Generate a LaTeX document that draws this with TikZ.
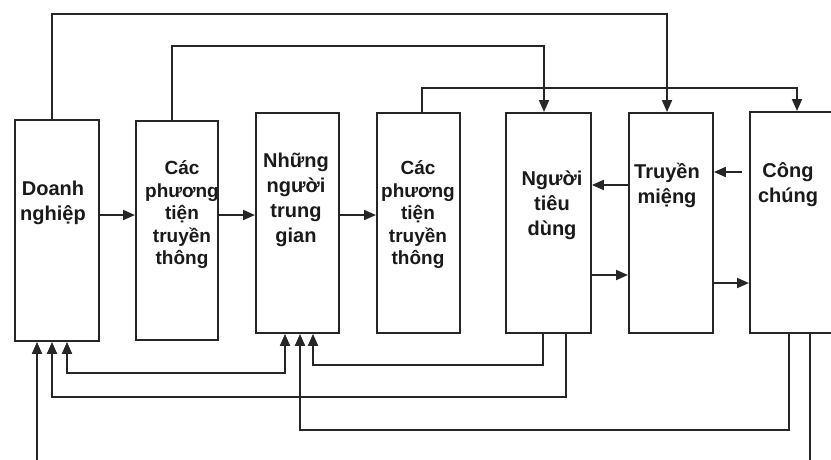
\documentclass[tikz,border=0pt]{standalone}
\usepackage{fontspec}
\setmainfont{Liberation Sans}
\usetikzlibrary{arrows.meta,calc}
\definecolor{lc}{HTML}{262626}
\definecolor{tc}{HTML}{1A1A1A}
\begin{document}
\begin{tikzpicture}[x=1pt,y=-1pt,
 box/.style={draw=lc, line width=1.9pt, inner sep=0pt, anchor=north west, minimum height=220pt},
 lbl/.style={align=center, font=\fontsize{20}{25}\selectfont\bfseries, text=tc, inner sep=0pt},
 lbls/.style={lbl, font=\fontsize{19}{22.5}\selectfont\bfseries},
 conn/.style={draw=lc, line width=1.9pt, -{Triangle[length=12pt,width=10pt]}},
 conn2/.style={draw=lc, line width=1.9pt, {Triangle[length=12pt,width=10pt]}-{Triangle[length=12pt,width=10pt]}},
]
\clip (0,0) rectangle (831,459);
\fill[white] (0,0) rectangle (831,459);

% boxes
\node[box, minimum width=84pt, minimum height=221pt] (dn) at (14,119) {};
\node[box, minimum width=82pt, minimum height=219pt] (cpt1) at (135,120) {};
\node[box, minimum width=83pt] (nntg) at (255,112) {};
\node[box, minimum width=83pt] (cpt2) at (376,112) {};
\node[box, minimum width=85pt] (ntd) at (505,112) {};
\node[box, minimum width=84pt] (tm) at (628,112) {};
\node[box, minimum width=84pt, minimum height=221pt] (cc) at (749,111) {};

% labels
\node[lbl] (dnt) at (53,203) {Doanh\\nghiệp};
\node[lbls] (cpt1t) at (182,215) {Các\\phương\\tiện\\truyền\\thông};
\node[lbl] (nntgt) at (296,200) {Những\\người\\trung\\gian};
\node[lbls] (cpt2t) at (418,215) {Các\\phương\\tiện\\truyền\\thông};
\node[lbl] (ntdt) at (552,205) {Người\\tiêu\\dùng};
\node[lbl] (tmt) at (667,185) {Truyền\\miệng};
\node[lbl] (cct) at (788,185) {Công\\chúng};

% top connectors
\draw[conn] (dn.north -| 52,0) -- (52,14) -- (667,14) -- (tm.north -| 667,0);
\draw[conn] (cpt1.north -| 172,0) -- (172,46) -- (544,46) -- (ntd.north -| 544,0);
\draw[conn] (cpt2.north -| 422,0) -- (422,88) -- (797,88) -- (cc.north -| 797,0);

% horizontal connectors
\draw[conn] (dn.east |- 0,215) -- (cpt1.west |- 0,215);
\draw[conn] (cpt1.east |- 0,215) -- (nntg.west |- 0,215);
\draw[conn] (nntg.east |- 0,215) -- (cpt2.west |- 0,215);
\draw[conn] (tm.west |- 0,185) -- (ntd.east |- 0,185);
\draw[conn, shorten <=7pt] (cc.west |- 0,172) -- (tm.east |- 0,172);
\draw[conn] (ntd.east |- 0,275) -- (tm.west |- 0,275);
\draw[conn] (tm.east |- 0,283) -- (cc.west |- 0,283);

% bottom connectors
\draw[conn2] (dn.south -| 67,0) -- (67,373) -- (285,373) -- (nntg.south -| 285,0);
\draw[conn] (ntd.south -| 543,0) -- (543,365) -- (313,365) -- (nntg.south -| 313,0);
\draw[conn] (ntd.south -| 566,0) -- (566,397) -- (52,397) -- (dn.south -| 52,0);
\draw[conn] (cc.south -| 789,0) -- (789,430) -- (300,430) -- (nntg.south -| 300,0);
\draw[conn] (cc.south -| 810,0) -- (810,466) -- (37,466) -- (dn.south -| 37,0);
\end{tikzpicture}
\end{document}
